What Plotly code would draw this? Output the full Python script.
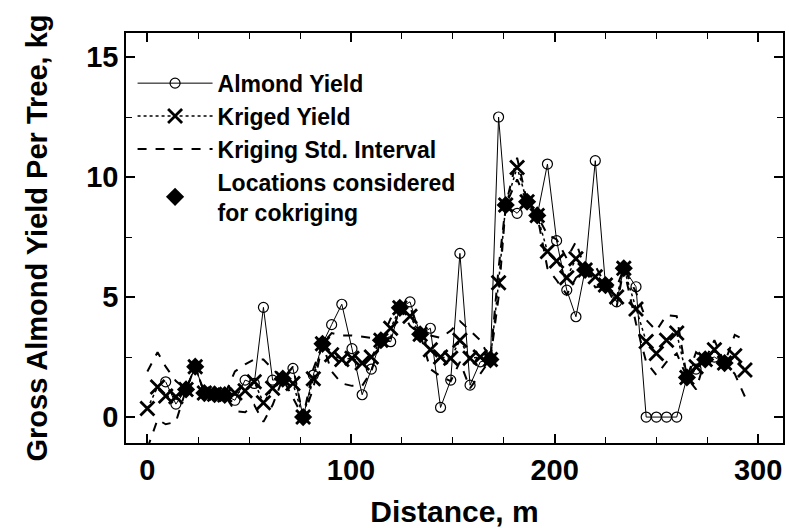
import plotly.graph_objects as go

# Sample locations along the transect (m)
distance = [0, 5, 9, 14, 19, 23.5, 28, 33, 38, 43, 48, 52.5, 57, 61.5, 66.5, 71.5,
            76.5, 81.5, 86, 90.5, 95.5, 100.5, 105.5, 110, 114.7, 119.5, 124, 129,
            134, 139, 144, 149, 153.5, 158.5, 163.5, 168.5, 172.5, 176, 181.6, 186.5,
            191.5, 196.5, 201, 206, 210.5, 215, 220, 225, 230.5, 234, 240, 245, 250,
            255, 260, 265, 269.5, 274, 278.5, 283.5, 288.5, 293.5]

# Measured gross almond yield per tree (kg)
almond_yield = [None, None, 1.47, 0.54, 1.15, 2.1, 1.0, 0.95, 0.92, 0.7, 1.54, 1.4,
                4.57, 1.54, 1.6, 2.03, 0.0, 1.75, 3.05, 3.85, 4.7, 2.85, 0.93, 2.0,
                3.2, 3.14, 4.55, 4.8, 3.45, 3.7, 0.4, 1.54, 6.82, 1.33, 2.3, 2.4,
                12.5, 8.83, 8.49, 8.97, 8.4, 10.54, 7.35, 5.29, 4.18, 6.13, 10.68,
                5.5, 4.8, 6.2, 5.43, 0.0, 0.0, 0.0, 0.0, 1.65, 2.0, 2.4, 2.5, 2.25,
                None, None]

# Kriged yield estimates (kg)
kriged_yield = [0.36, 1.25, 0.88, 0.85, 1.15, 2.1, 1.0, 0.95, 0.92, 1.0, 1.1, 1.47,
                0.6, 1.2, 1.6, 1.4, 0.0, 1.6, 3.05, 2.6, 2.4, 2.45, 2.25, 2.5, 3.2,
                3.7, 4.55, 4.2, 3.45, 2.8, 2.5, 2.45, 3.2, 2.45, 2.5, 2.4, 5.6, 8.83,
                10.4, 8.97, 8.4, 6.9, 6.5, 5.8, 6.6, 6.13, 5.85, 5.5, 5.0, 6.2, 4.5,
                3.15, 2.65, 3.2, 3.5, 1.65, 2.1, 2.4, 2.8, 2.25, 2.55, 1.96]

# Kriging standard-deviation interval bounds (kg)
std_upper = [1.9, 2.7, 2.1, 1.5, 1.15, 2.1, 1.0, 0.95, 0.92, 1.9, 2.2, 2.4, 2.4, 2.0,
             1.6, 2.1, 0.0, 2.0, 3.05, 3.5, 3.4, 3.4, 3.35, 3.3, 3.2, 4.1, 4.55, 4.6,
             3.45, 3.4, 3.3, 3.6, 4.0, 3.6, 3.2, 2.4, 6.2, 8.83, 10.8, 8.97, 8.4, 7.6,
             7.4, 6.6, 7.3, 6.13, 6.3, 5.5, 5.4, 6.2, 5.2, 4.05, 3.6, 4.25, 4.2, 1.65,
             2.7, 2.4, 3.2, 2.25, 3.42, 3.2]
std_lower = [-1.3, -0.1, -0.3, -0.2, 1.15, 2.1, 1.0, 0.95, 0.92, 0.25, 0.2, 0.5,
             -0.2, 0.5, 1.6, 0.8, 0.0, 1.2, 3.05, 1.9, 1.4, 1.3, 1.3, 1.9, 3.2, 3.3,
             4.55, 3.8, 3.45, 2.0, 1.7, 1.5, 2.3, 1.2, 1.8, 2.4, 5.0, 8.83, 9.9, 8.97,
             8.4, 6.2, 5.7, 5.1, 5.8, 6.13, 5.4, 5.5, 4.6, 6.2, 3.9, 2.3, 1.75, 2.3,
             2.65, 1.65, 1.15, 2.4, 2.3, 2.25, 1.8, 0.85]

# Locations used as data for cokriging
cokriging_x = [19, 23.5, 28, 33, 38, 66.5, 76.5, 86, 114.7, 124, 134, 168.5, 176,
               186.5, 191.5, 215, 225, 234, 265, 274, 283.5]
cokriging_y = [1.15, 2.1, 1.0, 0.95, 0.92, 1.6, 0.0, 3.05, 3.2, 4.55, 3.45, 2.4, 8.83,
               8.97, 8.4, 6.13, 5.5, 6.2, 1.65, 2.4, 2.25]

FONT = "Liberation Sans, Arial, Helvetica, sans-serif"
INK = "black"

fig = go.Figure()

fig.add_trace(go.Scatter(
    x=distance, y=std_upper, mode="lines", name="Kriging Std. Interval",
    line=dict(color=INK, width=2, dash="dash"), legendrank=3,
))
fig.add_trace(go.Scatter(
    x=distance, y=std_lower, mode="lines", showlegend=False,
    line=dict(color=INK, width=2, dash="dash"),
))
fig.add_trace(go.Scatter(
    x=distance, y=almond_yield, mode="lines+markers", name="Almond Yield",
    line=dict(color=INK, width=1), connectgaps=False,
    marker=dict(symbol="circle-open", size=10, color=INK, line=dict(width=1.2)),
    legendrank=1,
))
fig.add_trace(go.Scatter(
    x=distance, y=kriged_yield, mode="lines+markers", name="Kriged Yield",
    line=dict(color=INK, width=1.5, dash="dot"),
    marker=dict(symbol="x-thin-open", size=14, color=INK, line=dict(width=2.8, color=INK)),
    legendrank=2,
))
fig.add_trace(go.Scatter(
    x=cokriging_x, y=cokriging_y, mode="markers",
    name="Locations considered<br>for cokriging",
    marker=dict(symbol="diamond", size=14, color=INK),
    legendrank=4,
))

axis_common = dict(
    showline=True, linecolor=INK, linewidth=1.5, mirror="allticks",
    ticks="inside", ticklen=9, tickwidth=1.5, tickcolor=INK,
    showgrid=False, zeroline=False,
    tickfont=dict(family=FONT, size=29, color=INK, weight="bold"),
)

fig.update_xaxes(
    range=[-10.5, 312.2], tickvals=[0, 100, 200, 300],
    minor=dict(dtick=25, tick0=0, ticks="inside", ticklen=6, tickwidth=1.2, tickcolor=INK),
    title=dict(text="Distance, m", font=dict(family=FONT, size=30, color=INK, weight="bold"),
               standoff=16),
    **axis_common,
)
fig.update_yaxes(
    range=[-1.08, 16.0], tickvals=[0, 5, 10, 15],
    minor=dict(dtick=2.5, tick0=0, ticks="inside", ticklen=6, tickwidth=1.2, tickcolor=INK),
    title=dict(text="Gross Almond Yield Per Tree, kg",
               font=dict(family=FONT, size=29, color=INK, weight="bold"), standoff=30),
    **axis_common,
)

fig.update_layout(
    width=789, height=528,
    margin=dict(l=126, r=4, t=33, b=85),
    paper_bgcolor="white", plot_bgcolor="white",
    showlegend=True,
    legend=dict(
        x=0.01, y=0.93, xanchor="left", yanchor="top",
        bgcolor="rgba(0,0,0,0)", borderwidth=0,
        font=dict(family=FONT, size=23, color=INK, weight="bold"),
        itemwidth=75, tracegroupgap=0,
    ),
)

fig.write_html("out.html")
